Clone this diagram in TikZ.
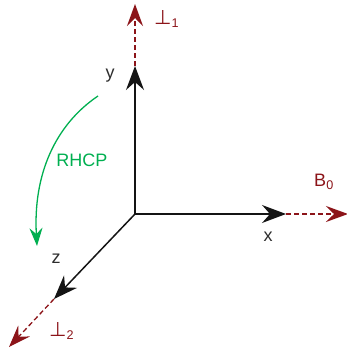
\documentclass[tikz,border=0pt]{standalone}
\usepackage{fontspec}
\setmainfont{Liberation Sans}
\newfontfamily\symfont{DejaVu Sans}
\usepackage{xcolor}
\usepackage{tikz}
\usetikzlibrary{arrows.meta, positioning, calc}
\definecolor{AxisBlack}{RGB}{20, 20, 20}
\definecolor{FieldRed}{RGB}{140, 20, 25}
\definecolor{RotGreen}{RGB}{0, 175, 80}
\definecolor{LabelGray}{RGB}{45, 45, 45}

\begin{document}
\begin{tikzpicture}[x=1pt,y=-1pt,
    axis/.style={AxisBlack, line width=1.5pt, -{Stealth[length=24pt, width=18pt, inset=8pt]}},
    fieldvec/.style={FieldRed, line width=1.3pt, dash pattern=on 5pt off 3pt, -{Stealth[length=22pt, width=16pt, inset=8pt]}},
    rotarrow/.style={RotGreen, line width=1.3pt, -{Stealth[length=18pt, width=13pt, inset=6pt]}},
    axlabel/.style={text=LabelGray, font=\fontsize{18}{20}\selectfont, inner sep=0pt},
    veclabel/.style={text=FieldRed, font=\fontsize{18}{20}\selectfont, inner sep=0pt}]
  \path[use as bounding box] (0,0) rectangle (347,350);
  % axes
  \coordinate (o) at (135,214);
  \coordinate (yend) at (135,66);
  \coordinate (xend) at (286,214);
  \coordinate (zend) at (54,299);
  \coordinate (perpone) at (135,4);
  \coordinate (bzero) at (348,214);
  \coordinate (perptwo) at (9,347);
  \draw[fieldvec] (yend) -- (perpone);
  \draw[fieldvec] (xend) -- (bzero);
  \draw[fieldvec] (zend) -- (perptwo);
  \draw[axis] (o) -- (yend);
  \draw[axis] (o) -- (xend);
  \draw[axis] (o) -- (zend);
  % labels
  \node[axlabel] (ylab) at (110,76) {y};
  \node[axlabel] (xlab) at (268,237) {x};
  \node[axlabel] (zlab) at (56,259) {z};
  \node[veclabel, anchor=west] (perponelab) at (154,19) {{\symfont\fontsize{20}{22}\selectfont ⊥}\textsubscript{1}};
  \node[veclabel] (bzerolab) at (324,182) {B\textsubscript{0}};
  \node[veclabel, anchor=west] (perptwolab) at (49,331) {{\symfont\fontsize{20}{22}\selectfont ⊥}\textsubscript{2}};
  % rotation sense
  \coordinate (rotstart) at (98,96);
  \coordinate (rotend) at (37,246);
  \draw[rotarrow] (rotstart) .. controls (55,125) and (33,175) .. (rotend);
  \node[text=RotGreen, font=\fontsize{18}{20}\selectfont, inner sep=0pt] (rhcp) at (82,160) {RHCP};
\end{tikzpicture}
\end{document}
